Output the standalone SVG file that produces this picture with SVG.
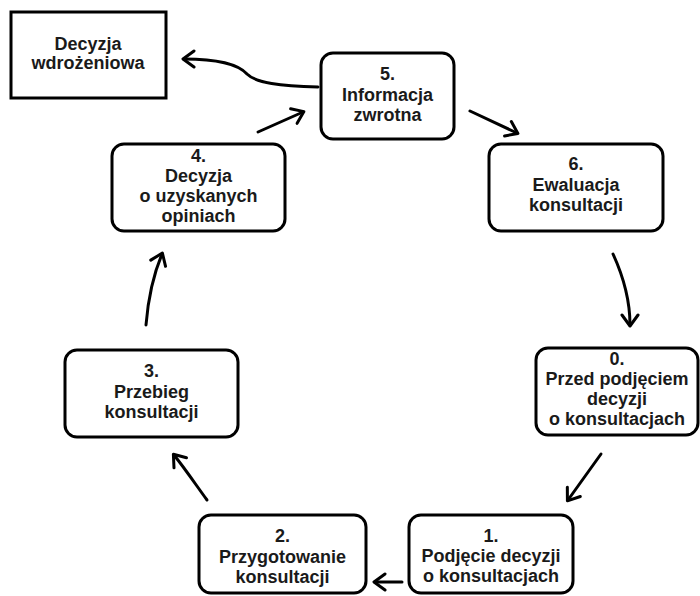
<svg xmlns="http://www.w3.org/2000/svg" width="700" height="596" viewBox="0 0 700 596">
<defs>
<style>
.box{fill:#fff;stroke:#000;stroke-width:3}
.t{font-family:"Liberation Sans",Arial,sans-serif;font-weight:bold;font-size:18px;fill:#1a1a1a;text-anchor:middle}
.c{fill:none;stroke:#000;stroke-width:3;stroke-linecap:round}
</style>
<marker id="ah" viewBox="0 0 20 20" refX="14" refY="10" markerWidth="20" markerHeight="20" markerUnits="userSpaceOnUse" orient="auto">
<path d="M4 2 L15 10 L4 18" fill="none" stroke="#000" stroke-width="3" stroke-linecap="round" stroke-linejoin="round"/>
</marker>
</defs>
<rect width="700" height="596" fill="#fff"/>
<g id="connectors">
<path class="c" marker-end="url(#ah)" d="M318 87 C 280 86, 256 83, 247 74 C 238 64, 215 59, 184 59"/>
<path class="c" marker-end="url(#ah)" d="M258 132 L 303 112"/>
<path class="c" marker-end="url(#ah)" d="M470 111 L 517 133"/>
<path class="c" marker-end="url(#ah)" d="M613 254 C 624 278, 630 300, 630 325"/>
<path class="c" marker-end="url(#ah)" d="M601 454 L 568 500"/>
<path class="c" marker-end="url(#ah)" d="M402 582 L 375 582"/>
<path class="c" marker-end="url(#ah)" d="M207 500 C 196 485, 186 470, 174 455"/>
<path class="c" marker-end="url(#ah)" d="M146 325 C 148 300, 152 278, 162 254"/>
</g>
<g id="decyzja-wdrozeniowa">
<rect class="box" x="11" y="12" width="155" height="86"/>
<text class="t" x="88" y="50">Decyzja</text>
<text class="t" x="88" y="69">wdrożeniowa</text>
</g>
<g id="node5">
<rect class="box" x="321" y="53" width="133" height="86" rx="12"/>
<text class="t" x="387.5" y="80">5.</text>
<text class="t" x="387.5" y="101">Informacja</text>
<text class="t" x="387.5" y="121">zwrotna</text>
</g>
<g id="node6">
<rect class="box" x="489" y="144" width="174" height="87" rx="12"/>
<text class="t" x="576" y="170">6.</text>
<text class="t" x="576" y="191">Ewaluacja</text>
<text class="t" x="576" y="211">konsultacji</text>
</g>
<g id="node4">
<rect class="box" x="112" y="144" width="173" height="87" rx="12"/>
<text class="t" x="198.5" y="162">4.</text>
<text class="t" x="198.5" y="182">Decyzja</text>
<text class="t" x="198.5" y="202">o uzyskanych</text>
<text class="t" x="198.5" y="222">opiniach</text>
</g>
<g id="node0">
<rect class="box" x="536" y="348" width="162" height="87" rx="12"/>
<text class="t" x="617" y="365">0.</text>
<text class="t" x="617" y="385">Przed podjęciem</text>
<text class="t" x="617" y="405">decyzji</text>
<text class="t" x="617" y="425">o konsultacjach</text>
</g>
<g id="node3">
<rect class="box" x="65" y="350" width="173" height="87" rx="12"/>
<text class="t" x="151.5" y="377">3.</text>
<text class="t" x="151.5" y="398">Przebieg</text>
<text class="t" x="151.5" y="418">konsultacji</text>
</g>
<g id="node2">
<rect class="box" x="199" y="515" width="167" height="78" rx="12"/>
<text class="t" x="282.5" y="542">2.</text>
<text class="t" x="282.5" y="563">Przygotowanie</text>
<text class="t" x="282.5" y="583">konsultacji</text>
</g>
<g id="node1">
<rect class="box" x="409" y="515" width="164" height="78" rx="12"/>
<text class="t" x="491" y="542">1.</text>
<text class="t" x="491" y="562">Podjęcie decyzji</text>
<text class="t" x="491" y="582">o konsultacjach</text>
</g>
</svg>
